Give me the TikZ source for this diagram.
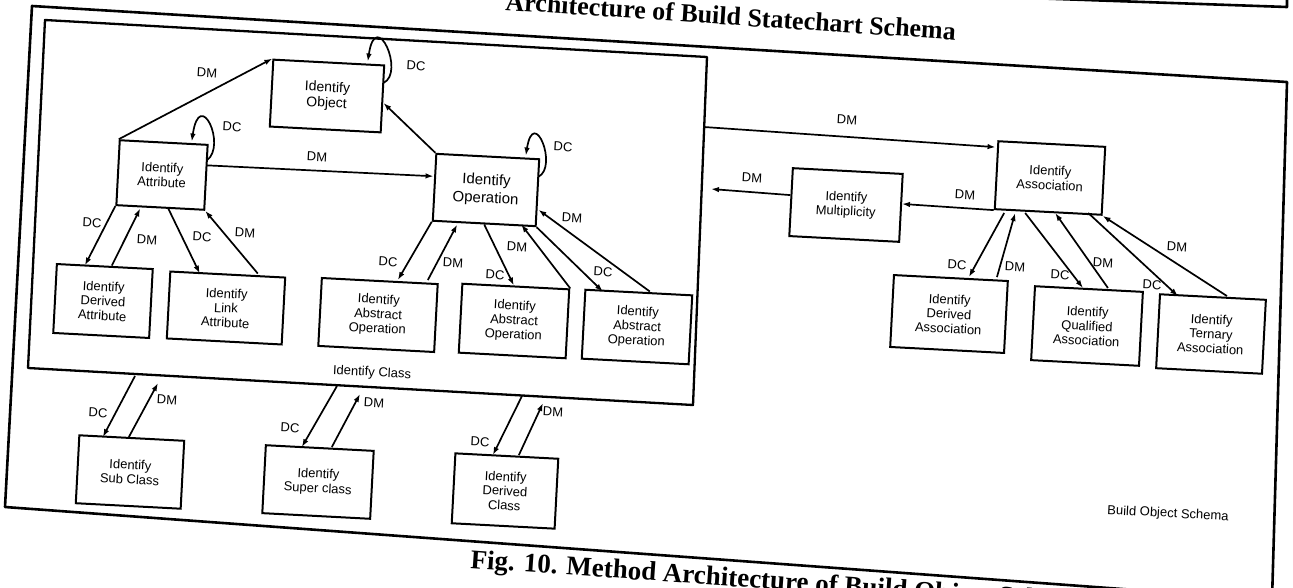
\documentclass[tikz,border=0pt]{standalone}
\usepackage{fontspec}
\setmainfont{Liberation Sans}
\newfontfamily\capfont{Liberation Serif}
\usetikzlibrary{arrows.meta,calc}

\begin{document}
\begin{tikzpicture}[x=1pt, y=-1pt,
  box/.style={draw, line width=2pt, align=center, rotate=-3, inner sep=1pt, font=\fontsize{13}{14.5}\selectfont},
  lbl/.style={inner sep=0pt, rotate=-3, font=\fontsize{13}{14}\selectfont},
  arr/.style={line width=1.7pt, -{Latex[length=8pt,width=5.5pt]}},
  frm/.style={line width=2.6pt, line join=round},
  figcap/.style={rotate=-3, inner sep=0pt, anchor=base west, font=\capfont\bfseries\fontsize{26}{28}\selectfont}
]
\useasboundingbox (0,0) rectangle (1293,587);
\clip (0,0) rectangle (1293,587);
\fill[white] (0,0) rectangle (1293,587);

\draw[frm] (1000,-3) -- (1287,7) -- (1287,-20);
\node[figcap, rotate=-0.8] (figa) at (505,10) {Architecture of Build Statechart Schema};
\draw[frm] (32,6) -- (1287,82) -- (1272,600) -- (5,507) -- cycle;
\draw[frm, line width=2.3pt] (45,20) -- (707,57) -- (693,405) -- (28,368) -- cycle;
\node[figcap, rotate=-1, font=\capfont\bfseries\fontsize{27}{29}\selectfont] (figb) at (470,568) {Fig. 10. Method Architecture of Build Object Schema};
\node[lbl] (cls) at (372,373) {Identify Class};
\node[lbl] (bos) at (1168,514) {Build Object Schema};

\node[box, minimum width=111, minimum height=67, font=\fontsize{14}{15.5}\selectfont] (obj) at (327,96) {Identify\\Object};
\node[box, minimum width=88, minimum height=65] (attr) at (162,175) {Identify\\Attribute};
\node[box, minimum width=103, minimum height=67, font=\fontsize{15}{18}\selectfont] (op) at (486,190) {Identify\\Operation};
\node[box, minimum width=96, minimum height=69] (dattr) at (103,301) {Identify\\Derived\\Attribute};
\node[box, minimum width=115, minimum height=67] (lattr) at (226,308) {Identify\\Link\\Attribute};
\node[box, minimum width=116, minimum height=68] (aop1) at (378,315) {Identify\\Abstract\\Operation};
\node[box, minimum width=107, minimum height=69] (aop2) at (514,321) {Identify\\Abstract\\Operation};
\node[box, minimum width=107, minimum height=69] (aop3) at (637,327) {Identify\\Abstract\\Operation};
\node[box, minimum width=105, minimum height=68] (sub) at (130,472) {Identify\\Sub Class};
\node[box, minimum width=108, minimum height=68] (sup) at (318,482) {Identify\\Super class};
\node[box, minimum width=103, minimum height=70] (dcl) at (505,491) {Identify\\Derived\\Class};
\node[box, minimum width=107, minimum height=68] (as) at (1050,178) {Identify\\Association};
\node[box, minimum width=110, minimum height=68] (mul) at (846,205) {Identify\\Multiplicity};
\node[box, minimum width=114, minimum height=72] (das) at (949,314) {Identify\\Derived\\Association};
\node[box, minimum width=108, minimum height=74] (qas) at (1087,326) {Identify\\Qualified\\Association};
\node[box, minimum width=106, minimum height=74] (tas) at (1211,334) {Identify\\Ternary\\Association};

\coordinate (fsub1) at (135,376);
\coordinate (fsub2) at (158,383);
\coordinate (fsup1) at (337,386);
\coordinate (fsup2) at (360,394);
\coordinate (fdc1) at (522,396);
\coordinate (fdc2) at (543,403);
\coordinate (fas) at (704,127);
\coordinate (fmul) at (711,189);

\draw[arr] ([yshift=16]obj.east) .. controls +(22,-10) and +(8,-55) .. ([xshift=39]obj.north) node[lbl] at (416,66) {DC};
\draw[arr] ([yshift=17]attr.east) .. controls +(20,-15) and +(8,-55) .. ([xshift=28]attr.north) node[lbl] at (232,127) {DC};
\draw[arr] ([yshift=16]op.east) .. controls +(20,-10) and +(8,-50) .. ([xshift=38]op.north) node[lbl] at (563,147) {DC};

\draw[arr] (attr.north west) -- (obj.north west) node[lbl] at (207,73) {DM};
\draw[arr] ([yshift=12]attr.east) -- ([yshift=11]op.west) node[lbl] at (317,157) {DM};
\draw[arr] (op.north west) -- ([yshift=-4]obj.east);
\draw[arr] (attr.south west) -- ([xshift=-20]dattr.north) node[lbl] at (92,223) {DC};
\draw[arr] ([xshift=7]dattr.north) -- ([xshift=-20]attr.south) node[lbl] at (147,240) {DM};
\draw[arr] ([xshift=8]attr.south) -- ([xshift=-28]lattr.north) node[lbl] at (202,237) {DC};
\draw[arr] ([xshift=30]lattr.north) -- (attr.south east) node[lbl] at (245,233) {DM};
\draw[arr] (op.south west) -- ([xshift=18]aop1.north) node[lbl] at (388,262) {DC};
\draw[arr] ([xshift=48]aop1.north) -- ([xshift=-27]op.south) node[lbl] at (453,263) {DM};
\draw[arr] (op.south) -- ([xshift=-2]aop2.north) node[lbl] at (495,275) {DC};
\draw[arr] (aop2.north east) -- ([xshift=37]op.south) node[lbl] at (517,247) {DM};
\draw[arr] (op.south east) -- ([xshift=-36]aop3.north) node[lbl] at (603,272) {DC};
\draw[arr] ([xshift=11]aop3.north) -- ([yshift=-17]op.east) node[lbl] at (572,218) {DM};

\draw[arr] (fsub1) -- ([xshift=-29]sub.north) node[lbl] at (98,413) {DC};
\draw[arr] ([xshift=-3]sub.north) -- (fsub2) node[lbl] at (167,400) {DM};
\draw[arr] (fsup1) -- ([xshift=-18]sup.north) node[lbl] at (290,428) {DC};
\draw[arr] ([xshift=12]sup.north) -- (fsup2) node[lbl] at (374,403) {DM};
\draw[arr] (fdc1) -- ([xshift=-14]dcl.north) node[lbl] at (480,442) {DC};
\draw[arr] ([xshift=12]dcl.north) -- (fdc2) node[lbl] at (553,412) {DM};

\draw[arr] (fas) -- ([yshift=28]as.west) node[lbl] at (847,120) {DM};
\draw[arr] (as.south west) -- ([yshift=4]mul.east) node[lbl] at (965,195) {DM};
\draw[arr] ([yshift=7]mul.west) -- (fmul) node[lbl] at (752,178) {DM};
\draw[arr] ([xshift=-44]as.south) -- ([xshift=18]das.north) node[lbl] at (957,265) {DC};
\draw[arr] ([xshift=46]das.north) -- ([xshift=-33]as.south) node[lbl] at (1015,267) {DM};
\draw[arr] ([xshift=-23]as.south) -- ([xshift=-6]qas.north) node[lbl] at (1060,275) {DC};
\draw[arr] ([xshift=19]qas.north) -- ([xshift=7]as.south) node[lbl] at (1103,263) {DM};
\draw[arr] ([xshift=40]as.south) -- ([xshift=-35]tas.north) node[lbl] at (1152,285) {DC};
\draw[arr] ([xshift=14]tas.north) -- (as.south east) node[lbl] at (1177,247) {DM};
\end{tikzpicture}
\end{document}
